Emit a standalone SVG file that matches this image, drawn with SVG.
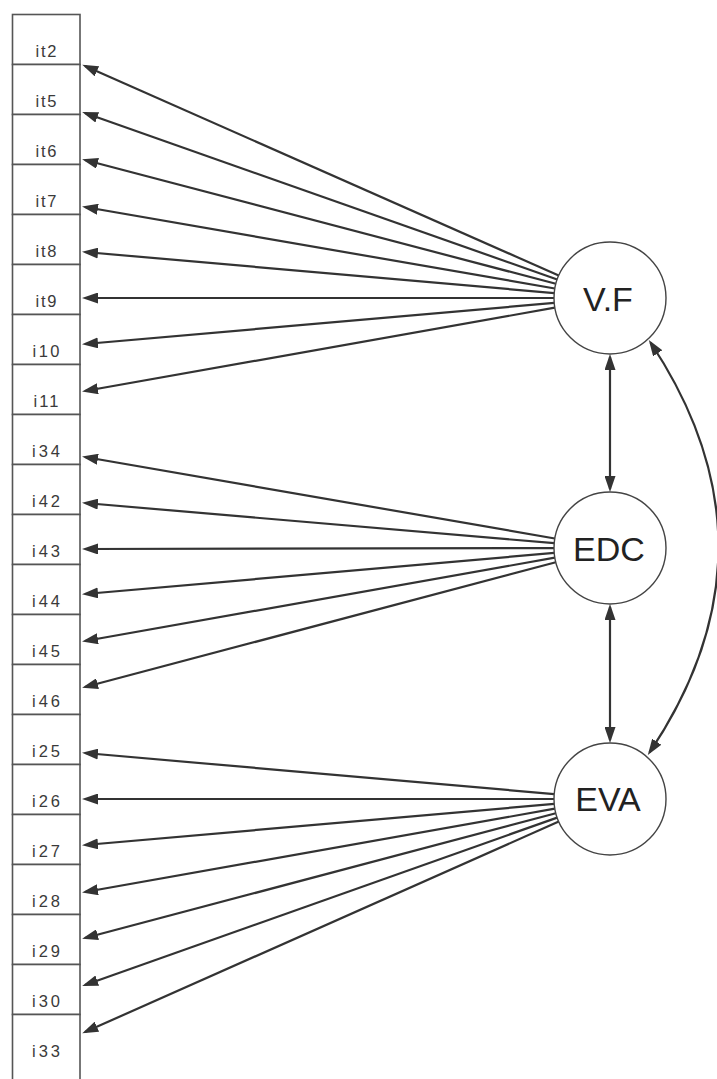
<svg xmlns="http://www.w3.org/2000/svg" width="717" height="1079" viewBox="0 0 717 1079">
<style>
.box rect{fill:#fff;stroke:#555;stroke-width:1.6}
.box text{font-family:"Liberation Sans",Arial,sans-serif;font-size:16.5px;fill:#3a3a3a;text-anchor:middle}
.lat circle{fill:#fff;stroke:#444;stroke-width:1.4}
.lat text{font-family:"Liberation Sans",Arial,sans-serif;font-size:34px;fill:#222;text-anchor:middle}
.cx line,.cx path{stroke:#333;stroke-width:2.2;fill:none;marker-end:url(#ah)}
.cx .dbl{marker-start:url(#ah)}
</style>
<defs>
<marker id="ah" viewBox="0 0 16 11" refX="13" refY="5.5" markerWidth="16" markerHeight="11" markerUnits="userSpaceOnUse" orient="auto-start-reverse">
<path d="M0,0 L16,5.5 L0,11 Z" fill="#333"/>
</marker>
</defs>
<rect width="717" height="1079" fill="#fff"/>
<g id="items">
<g id="it2" class="box"><rect x="12.5" y="14.5" width="67.5" height="50"/><text x="46" y="56.5" textLength="21" lengthAdjust="spacing">it2</text></g>
<g id="it5" class="box"><rect x="12.5" y="64.5" width="67.5" height="50"/><text x="46" y="106.5" textLength="21" lengthAdjust="spacing">it5</text></g>
<g id="it6" class="box"><rect x="12.5" y="114.5" width="67.5" height="50"/><text x="46" y="156.5" textLength="21" lengthAdjust="spacing">it6</text></g>
<g id="it7" class="box"><rect x="12.5" y="164.5" width="67.5" height="50"/><text x="46" y="206.5" textLength="21" lengthAdjust="spacing">it7</text></g>
<g id="it8" class="box"><rect x="12.5" y="214.5" width="67.5" height="50"/><text x="46" y="256.5" textLength="21" lengthAdjust="spacing">it8</text></g>
<g id="it9" class="box"><rect x="12.5" y="264.5" width="67.5" height="50"/><text x="46" y="306.5" textLength="21" lengthAdjust="spacing">it9</text></g>
<g id="i10" class="box"><rect x="12.5" y="314.5" width="67.5" height="50"/><text x="46" y="356.5" textLength="27" lengthAdjust="spacing">i10</text></g>
<g id="i11" class="box"><rect x="12.5" y="364.5" width="67.5" height="50"/><text x="46" y="406.5" textLength="25" lengthAdjust="spacing">i11</text></g>
<g id="i34" class="box"><rect x="12.5" y="414.5" width="67.5" height="50"/><text x="46" y="456.5" textLength="28" lengthAdjust="spacing">i34</text></g>
<g id="i42" class="box"><rect x="12.5" y="464.5" width="67.5" height="50"/><text x="46" y="506.5" textLength="28" lengthAdjust="spacing">i42</text></g>
<g id="i43" class="box"><rect x="12.5" y="514.5" width="67.5" height="50"/><text x="46" y="556.5" textLength="28" lengthAdjust="spacing">i43</text></g>
<g id="i44" class="box"><rect x="12.5" y="564.5" width="67.5" height="50"/><text x="46" y="606.5" textLength="28" lengthAdjust="spacing">i44</text></g>
<g id="i45" class="box"><rect x="12.5" y="614.5" width="67.5" height="50"/><text x="46" y="656.5" textLength="28" lengthAdjust="spacing">i45</text></g>
<g id="i46" class="box"><rect x="12.5" y="664.5" width="67.5" height="50"/><text x="46" y="706.5" textLength="28" lengthAdjust="spacing">i46</text></g>
<g id="i25" class="box"><rect x="12.5" y="714.5" width="67.5" height="50"/><text x="46" y="756.5" textLength="28" lengthAdjust="spacing">i25</text></g>
<g id="i26" class="box"><rect x="12.5" y="764.5" width="67.5" height="50"/><text x="46" y="806.5" textLength="28" lengthAdjust="spacing">i26</text></g>
<g id="i27" class="box"><rect x="12.5" y="814.5" width="67.5" height="50"/><text x="46" y="856.5" textLength="28" lengthAdjust="spacing">i27</text></g>
<g id="i28" class="box"><rect x="12.5" y="864.5" width="67.5" height="50"/><text x="46" y="906.5" textLength="28" lengthAdjust="spacing">i28</text></g>
<g id="i29" class="box"><rect x="12.5" y="914.5" width="67.5" height="50"/><text x="46" y="956.5" textLength="28" lengthAdjust="spacing">i29</text></g>
<g id="i30" class="box"><rect x="12.5" y="964.5" width="67.5" height="50"/><text x="46" y="1006.5" textLength="28" lengthAdjust="spacing">i30</text></g>
<g id="i33" class="box"><rect x="12.5" y="1014.5" width="67.5" height="80"/><text x="46" y="1056.5" textLength="28" lengthAdjust="spacing">i33</text></g>
</g>
<g id="connectors" class="cx">
<line x1="558.7" y1="275.5" x2="85" y2="66"/>
<line x1="557.2" y1="279.5" x2="85" y2="113"/>
<line x1="555.8" y1="283.8" x2="85" y2="160"/>
<line x1="554.8" y1="288.5" x2="85" y2="207"/>
<line x1="554.2" y1="293.1" x2="85" y2="252"/>
<line x1="554" y1="298" x2="85" y2="298"/>
<line x1="554.2" y1="302.9" x2="85" y2="344"/>
<line x1="554.8" y1="307.7" x2="85" y2="391"/>
<line x1="554.8" y1="538.5" x2="85" y2="457"/>
<line x1="554.2" y1="543.2" x2="85" y2="503"/>
<line x1="554" y1="548.1" x2="85" y2="549"/>
<line x1="554.2" y1="552.9" x2="85" y2="594"/>
<line x1="554.8" y1="557.7" x2="85" y2="641"/>
<line x1="555.8" y1="562.3" x2="85" y2="687"/>
<line x1="554.2" y1="794.1" x2="85" y2="753"/>
<line x1="554" y1="799" x2="85" y2="799"/>
<line x1="554.2" y1="803.9" x2="85" y2="845"/>
<line x1="554.8" y1="808.7" x2="85" y2="892"/>
<line x1="555.8" y1="813.3" x2="85" y2="938"/>
<line x1="557.2" y1="817.6" x2="85" y2="985"/>
<line x1="558.8" y1="821.6" x2="85" y2="1032"/>
<line class="dbl" x1="610" y1="357" x2="610" y2="489"/>
<line class="dbl" x1="610" y1="607" x2="610" y2="740"/>
<path class="dbl" d="M650.5,342.5 Q787,548 649.5,752.5"/>
</g>
<g id="VF" class="lat"><circle cx="610" cy="298" r="56"/><text x="608" y="311">V.F</text></g>
<g id="EDC" class="lat"><circle cx="610" cy="548" r="56"/><text x="609" y="561">EDC</text></g>
<g id="EVA" class="lat"><circle cx="610" cy="799" r="56"/><text x="608" y="811">EVA</text></g>
</svg>
